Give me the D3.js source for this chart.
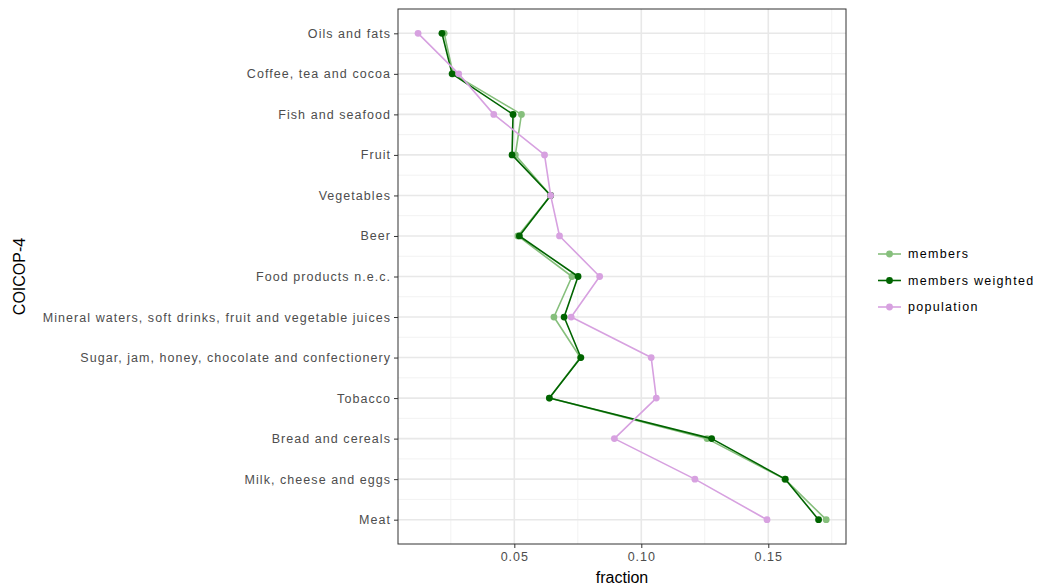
<!DOCTYPE html>
<html>
<head>
<meta charset="utf-8">
<script src="https://cdn.jsdelivr.net/npm/d3@7"></script>
<style>
html,body{margin:0;padding:0;background:#fff;}
svg{display:block;font-family:"Liberation Sans",Arial,sans-serif;}
</style>
</head>
<body>
<svg id="chart" width="1037" height="587"></svg>
<script>
const categories = [
  "Oils and fats",
  "Coffee, tea and cocoa",
  "Fish and seafood",
  "Fruit",
  "Vegetables",
  "Beer",
  "Food products n.e.c.",
  "Mineral waters, soft drinks, fruit and vegetable juices",
  "Sugar, jam, honey, chocolate and confectionery",
  "Tobacco",
  "Bread and cereals",
  "Milk, cheese and eggs",
  "Meat"
];
const members         = [0.0224,0.0259,0.0528,0.0504,0.0643,0.0514,0.0727,0.0656,0.0760,0.0638,0.1259,0.1565,0.1728];
const membersWeighted = [0.0215,0.0255,0.0495,0.0491,0.0643,0.0520,0.0751,0.0696,0.0762,0.0638,0.1277,0.1567,0.1698];
const population      = [0.0121,0.0281,0.0419,0.0619,0.0643,0.0678,0.0836,0.0724,0.1039,0.1059,0.0894,0.1211,0.1495];
const seriesNames = ["members","members weighted","population"];
const xTicks = [0.05, 0.10, 0.15];
const xMinorTicks = [0.025, 0.075, 0.125, 0.175];

const colors = {"members":"#86bf7c","members weighted":"#006400","population":"#d7a1e0"};
const seriesData = [
  {name:"members", values:members},
  {name:"members weighted", values:membersWeighted},
  {name:"population", values:population}
];

const svg = d3.select("#chart");
const L = 398, R = 846, T = 9, B = 544;

const x = d3.scaleLinear().domain([0.0042, 0.1806]).range([L, R]);
const y = d3.scalePoint().domain(categories).range([T, B]).padding(0.6);
const step = y.step();

// grid
const g = svg.append("g");
const minorY = categories.slice(0, -1).map((c) => y(c) + step / 2);
g.selectAll(".hminor").data(minorY).enter().append("line")
  .attr("x1", L).attr("x2", R).attr("y1", d => d).attr("y2", d => d)
  .attr("stroke", "#f2f2f2").attr("stroke-width", 1);
g.selectAll(".vminor").data(xMinorTicks.filter(v => x(v) > L && x(v) < R)).enter().append("line")
  .attr("y1", T).attr("y2", B).attr("x1", d => x(d)).attr("x2", d => x(d))
  .attr("stroke", "#f2f2f2").attr("stroke-width", 1);
g.selectAll(".hmajor").data(categories).enter().append("line")
  .attr("x1", L).attr("x2", R).attr("y1", d => y(d)).attr("y2", d => y(d))
  .attr("stroke", "#e8e8e8").attr("stroke-width", 1.6);
g.selectAll(".vmajor").data(xTicks).enter().append("line")
  .attr("y1", T).attr("y2", B).attr("x1", d => x(d)).attr("x2", d => x(d))
  .attr("stroke", "#e8e8e8").attr("stroke-width", 1.6);

// series
const line = d3.line().x(d => x(d.v)).y(d => y(d.c));
seriesData.forEach(s => {
  const pts = s.values.map((v, i) => ({v, c: categories[i]}));
  svg.append("path").datum(pts).attr("d", line)
    .attr("fill", "none").attr("stroke", colors[s.name]).attr("stroke-width", 1.6)
    .attr("stroke-linejoin", "round");
  svg.selectAll(null).data(pts).enter().append("circle")
    .attr("cx", d => x(d.v)).attr("cy", d => y(d.c)).attr("r", 3.4)
    .attr("fill", colors[s.name]);
});

// panel border
svg.append("rect").attr("x", L).attr("y", T).attr("width", R - L).attr("height", B - T)
  .attr("fill", "none").attr("stroke", "#333").attr("stroke-width", 1);

// axes
const xAxis = d3.axisBottom(x).tickValues(xTicks).tickFormat(d3.format(".2f")).tickSize(4).tickPadding(4);
const xg = svg.append("g").attr("transform", `translate(0,${B})`).call(xAxis);
xg.select(".domain").remove();
xg.selectAll(".tick line").attr("stroke", "#333");
xg.selectAll(".tick text").attr("fill", "#4d4d4d").style("font-size", "12.5px")
  .style("font-family", "Liberation Sans, Arial, sans-serif").style("letter-spacing", "1px");

const yAxis = d3.axisLeft(y).tickSize(4).tickPadding(3);
const yg = svg.append("g").attr("transform", `translate(${L},0)`).call(yAxis);
yg.select(".domain").remove();
yg.selectAll(".tick line").attr("stroke", "#333");
yg.selectAll(".tick text").attr("fill", "#4d4d4d").style("font-size", "12.5px")
  .style("font-family", "Liberation Sans, Arial, sans-serif").style("letter-spacing", "1.05px");

// axis titles
svg.append("text").attr("x", (L + R) / 2).attr("y", 583).attr("text-anchor", "middle")
  .style("font-size", "16px").attr("fill", "#000").text("fraction");
svg.append("text").attr("transform", `translate(25,${(T + B) / 2}) rotate(-90)`)
  .attr("text-anchor", "middle").style("font-size", "16px").attr("fill", "#000").text("COICOP-4");

// legend
const leg = svg.append("g");
seriesNames.forEach((n, i) => {
  const ly = 254 + i * 26.5;
  leg.append("line").attr("x1", 878).attr("x2", 901).attr("y1", ly).attr("y2", ly)
    .attr("stroke", colors[n]).attr("stroke-width", 1.6);
  leg.append("circle").attr("cx", 889.5).attr("cy", ly).attr("r", 3.4).attr("fill", colors[n]);
  leg.append("text").attr("x", 908).attr("y", ly).attr("dy", "0.35em")
    .style("font-size", "12.5px").style("letter-spacing", "1.3px").attr("fill", "#000").text(n);
});
</script>
</body>
</html>
